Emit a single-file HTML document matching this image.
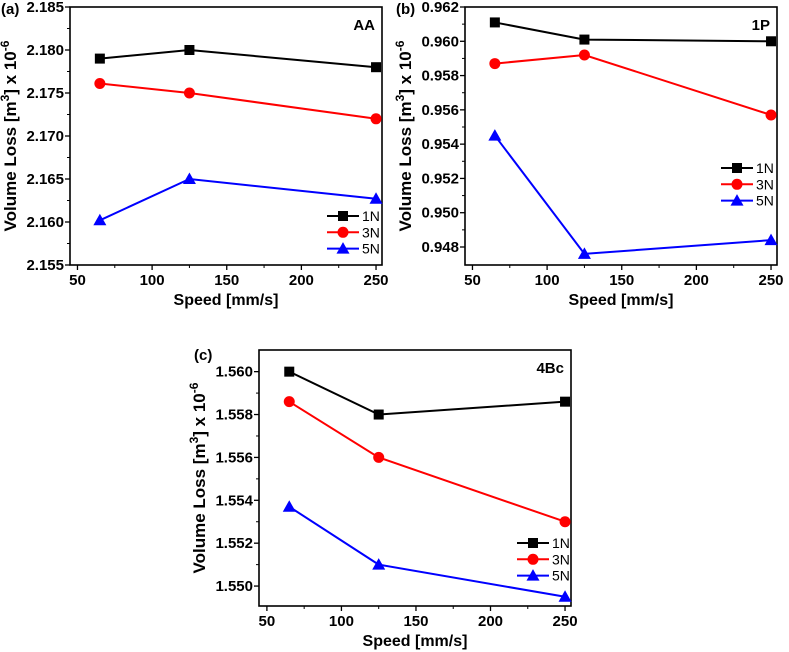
<!DOCTYPE html>
<html><head><meta charset="utf-8"><style>
body{margin:0;background:#fff;}
svg{display:block;font-family:"Liberation Sans",Arial,sans-serif;}
</style></head><body>
<svg id="fig" width="789" height="652" viewBox="0 0 789 652" xmlns="http://www.w3.org/2000/svg"></svg>
<script>
const xCategories=[65,125,250];
const xTicks=[50,100,150,200,250];
const aTicks=[2.155,2.160,2.165,2.170,2.175,2.180,2.185];
const a1N=[2.179,2.180,2.178];
const a3N=[2.1761,2.175,2.172];
const a5N=[2.1602,2.165,2.1627];
const bTicks=[0.948,0.950,0.952,0.954,0.956,0.958,0.960,0.962];
const b1N=[0.9611,0.9601,0.9600];
const b3N=[0.9587,0.9592,0.9557];
const b5N=[0.9545,0.9476,0.9484];
const cTicks=[1.550,1.552,1.554,1.556,1.558,1.560];
const c1N=[1.560,1.558,1.5586];
const c3N=[1.5586,1.556,1.5530];
const c5N=[1.5537,1.5510,1.5495];
const seriesNames=["1N","3N","5N"];

const NS="http://www.w3.org/2000/svg";
const svg=document.getElementById('fig');
function mk(tag,attrs,parent,text){const e=document.createElementNS(NS,tag);for(const k in attrs)e.setAttribute(k,attrs[k]);if(text!==undefined)e.textContent=text;parent.appendChild(e);return e;}

function panel(p){
  const g=mk('g',{},svg);
  
  
  const sx=v=>p.L+(v-p.xmin)/(p.xmax-p.xmin)*(p.R-p.L);
  const sy=v=>p.B-(v-p.ymin)/(p.ymax-p.ymin)*(p.B-p.T);
  xTicks.forEach((t,i)=>{
    const x=sx(t);
    const tk=mk('line',{x1:x,x2:x,y1:p.B,y2:p.B+5,stroke:'#000','stroke-width':1.3},g);
    
    const lb=mk('text',{x:x,y:p.B+20,'text-anchor':'middle','font-size':15,'font-weight':'bold'},g,String(t));
    
    if(i<xTicks.length-1){const xm=sx(t+25);mk('line',{x1:xm,x2:xm,y1:p.B,y2:p.B+3,stroke:'#000','stroke-width':1},g);}
  });
  p.ticks.forEach((t,i)=>{
    const y=sy(t);
    const tk=mk('line',{x1:p.L-5,x2:p.L,y1:y,y2:y,stroke:'#000','stroke-width':1.3},g);
    
    const lb=mk('text',{x:p.L-6,y:y+5,'text-anchor':'end','font-size':15,'font-weight':'bold'},g,t.toFixed(3));
    
    if(i<p.ticks.length-1){const ym=sy(t+(p.ticks[1]-p.ticks[0])/2);mk('line',{x1:p.L-3,x2:p.L,y1:ym,y2:ym,stroke:'#000','stroke-width':1},g);}
  });
  const fr=mk('rect',{x:p.L,y:p.T,width:p.R-p.L,height:p.B-p.T,fill:'none',stroke:'#000','stroke-width':1.6},g);
  
  const colors=['#000','#f00','#00f'];
  p.series.forEach((s,si)=>{
    const sg=mk('g',{},g);
    
    
    const pts=xCategories.map((x,i)=>sx(x)+','+sy(s[i])).join(' ');
    mk('polyline',{points:pts,fill:'none',stroke:colors[si],'stroke-width':2},sg);
    xCategories.forEach((x,i)=>marker(sg,si,sx(x),sy(s[i]),colors[si]));
  });
  const lg=mk('g',{},g);
  
  seriesNames.forEach((n,i)=>{
    const y=p.legY+i*16.3;
    const le=mk('g',{},lg);
    
    mk('line',{x1:p.legX,x2:p.legX+32,y1:y,y2:y,stroke:colors[i],'stroke-width':2},le);
    marker(le,i,p.legX+16,y,colors[i]);
    mk('text',{x:p.legX+35,y:y+5,'font-size':14},le,n);
  });
  const tt=mk('text',{x:p.R-7,y:p.T+23,'text-anchor':'end','font-size':15,'font-weight':'bold'},g,p.title);
  
  const pl=mk('text',{x:p.labX,y:p.labY,'font-size':15,'font-weight':'bold'},g,'('+p.id+')');
  
  const xt=mk('text',{x:(p.L+p.R)/2,y:p.B+40,'text-anchor':'middle','font-size':16,'font-weight':'bold'},g,'Speed [mm/s]');
  
  const yx=p.L-54, yc=(p.T+p.B)/2;
  const yt=mk('text',{x:yx,y:yc,'text-anchor':'middle','font-size':17,'font-weight':'bold',transform:`rotate(-90 ${yx} ${yc})`},g);
  
  mk('tspan',{},yt,'Volume Loss [m');
  mk('tspan',{dy:-7,'font-size':12},yt,'3');
  mk('tspan',{dy:7},yt,'] x 10');
  mk('tspan',{dy:-7,'font-size':12},yt,'-6');
}
function marker(g,si,x,y,c){
  let m;
  if(si===0)m=mk('rect',{x:x-5,y:y-5,width:10,height:10,fill:c},g);
  else if(si===1)m=mk('circle',{cx:x,cy:y,r:5.5,fill:c},g);
  else m=mk('polygon',{points:`${x},${y-6.5} ${x-6.5},${y+5} ${x+6.5},${y+5}`,fill:c},g);
  
}
panel({id:'a',title:'AA',L:70,R:382,T:7,B:265,xmin:45,xmax:254,ymin:2.155,ymax:2.185,ticks:aTicks,series:[a1N,a3N,a5N],legX:327,legY:216,labX:1,labY:14});
panel({id:'b',title:'1P',L:465,R:777,T:7,B:265,xmin:45,xmax:254,ymin:0.94695,ymax:0.962,ticks:bTicks,series:[b1N,b3N,b5N],legX:721,legY:168,labX:396,labY:14});
panel({id:'c',title:'4Bc',L:259,R:571,T:350,B:606,xmin:44.7,xmax:254,ymin:1.54907,ymax:1.56101,ticks:cTicks,series:[c1N,c3N,c5N],legX:517,legY:543,labX:194,labY:360});
</script>
</body></html>
